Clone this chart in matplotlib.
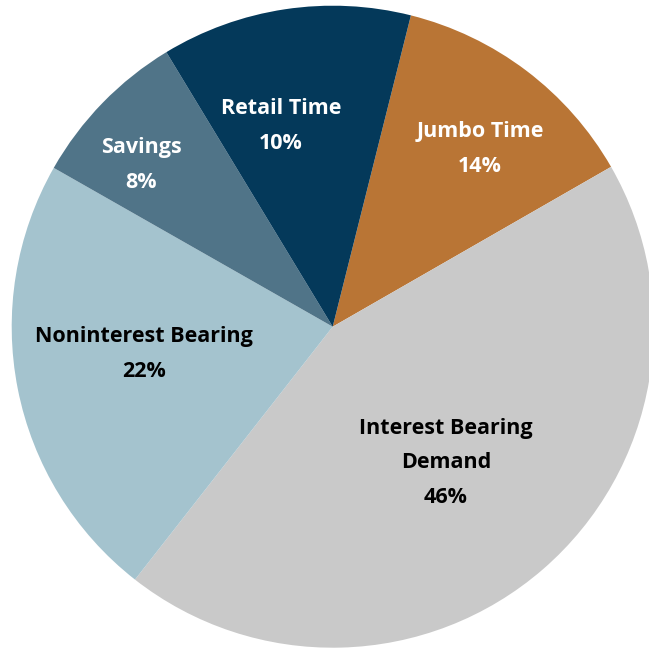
import matplotlib
matplotlib.use("Agg")
import matplotlib.pyplot as plt

# ── Data ────────────────────────────────────────────────────────────────
categories = ["Jumbo Time", "Interest Bearing\nDemand", "Noninterest Bearing",
              "Savings", "Retail Time"]
shares     = [12.8, 43.9, 22.7, 8.1, 12.6]      # wedge sizes as drawn
pct_labels = ["14%", "46%", "22%", "8%", "10%"]  # printed percentages
colors     = ["#B97535", "#C9C9C9", "#A4C3CE", "#507488", "#04395A"]
text_cols  = ["white", "black", "black", "white", "white"]

# label centres in pixel space (x, y from top-left)
label_px = [(480, 149), (446, 463), (144, 354), (141, 165), (281, 126)]

W, H = 649, 651
CX, CY, R = 332.7, 326.7, 321.0

fig = plt.figure(figsize=(W / 100, H / 100), dpi=100)
ax = fig.add_axes([0, 0, 1, 1])
ax.axis("off")

ax.pie(shares, colors=colors, startangle=90 - 14.1, counterclock=False,
       radius=1.0, center=(0, 0), frame=False,
       wedgeprops=dict(linewidth=0))
ax.set_aspect("equal")
ax.set_xlim(-CX / R, (W - CX) / R)
ax.set_ylim((CY - H) / R, CY / R)

for cat, pct, tc, (px, py) in zip(categories, pct_labels, text_cols, label_px):
    x = (px - CX) / R
    y = (CY - py) / R
    ax.text(x, y, f"{cat}\n{pct}", ha="center", va="center",
            color=tc, fontsize=15.5, fontweight="bold",
            family=["Open Sans", "DejaVu Sans"], linespacing=1.85)

fig.savefig("out.png", dpi=100)
